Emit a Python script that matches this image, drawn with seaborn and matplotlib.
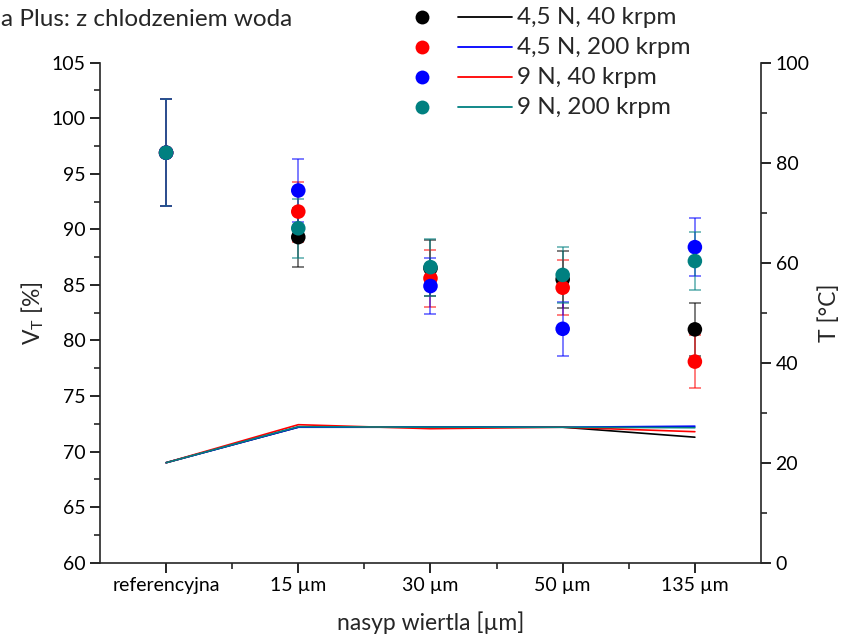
import matplotlib
matplotlib.use("Agg")
import matplotlib.pyplot as plt
from matplotlib.lines import Line2D
from matplotlib.ticker import MultipleLocator, FixedLocator
import numpy as np
import pandas as pd
import seaborn as sns

# --- data -------------------------------------------------------------
categories = ["referencyjna", "15 µm", "30 µm", "50 µm", "135 µm"]
series_names = ["4,5 N, 40 krpm", "4,5 N, 200 krpm", "9 N, 40 krpm", "9 N, 200 krpm"]

# V_T [%] with error bars
vt_45_40 = [96.9, 89.3, 86.5, 85.5, 81.0]
vt_45_200 = [96.9, 91.6, 85.6, 84.75, 78.1]
vt_9_40 = [96.9, 93.5, 84.9, 81.05, 88.4]
vt_9_200 = [96.9, 90.1, 86.6, 85.9, 87.15]
err_45_40 = [4.8, 2.65, 2.5, 2.55, 2.4]
err_45_200 = [4.8, 2.7, 2.55, 2.5, 2.35]
err_9_40 = [4.8, 2.8, 2.52, 2.45, 2.63]
err_9_200 = [4.8, 2.65, 2.56, 2.55, 2.6]

# temperature T [°C]
t_45_40 = [20.0, 27.1, 27.1, 27.1, 25.1]
t_45_200 = [20.0, 27.1, 27.1, 27.1, 27.3]
t_9_40 = [20.0, 27.6, 26.8, 27.1, 26.2]
t_9_200 = [20.0, 27.2, 27.1, 27.1, 27.0]

point_colors = ["#000000", "#FF0000", "#0000FF", "#008080"]
line_colors = ["#000000", "#0000FF", "#FF0000", "#008080"]

vt_values = [vt_45_40, vt_45_200, vt_9_40, vt_9_200]
vt_errors = [err_45_40, err_45_200, err_9_40, err_9_200]
t_values = [t_45_40, t_45_200, t_9_40, t_9_200]

# --- style ------------------------------------------------------------
sns.set_style("ticks")
FONT = ["Lato", "DejaVu Sans"]
plt.rcParams["font.family"] = FONT
plt.rcParams["mathtext.fontset"] = "custom"
plt.rcParams["mathtext.rm"] = "Lato"
plt.rcParams["mathtext.it"] = "Lato:italic"
plt.rcParams["axes.linewidth"] = 1.2
plt.rcParams["xtick.major.width"] = 1.2
plt.rcParams["ytick.major.width"] = 1.2
plt.rcParams["xtick.minor.width"] = 1.2
plt.rcParams["ytick.minor.width"] = 1.2

x_pos = np.arange(len(categories))

vt_df = pd.DataFrame({
    "x": np.tile(x_pos, len(series_names)),
    "vt": np.concatenate(vt_values),
    "err": np.concatenate(vt_errors),
    "series": np.repeat(series_names, len(categories)),
})
t_df = pd.DataFrame({
    "x": np.tile(x_pos, len(series_names)),
    "T": np.concatenate(t_values),
    "series": np.repeat(series_names, len(categories)),
})

fig = plt.figure(figsize=(8.43, 6.40), dpi=100)
ax = fig.add_axes([0.1186, 0.1208, 0.7841, 0.7812])
ax2 = ax.twinx()

# temperature lines on the right axis
sns.lineplot(data=t_df, x="x", y="T", hue="series", hue_order=series_names,
             palette=line_colors, linewidth=1.2, ax=ax2, legend=False,
             sort=False, estimator=None)

# error bars, then points on the left axis
for name, col in zip(series_names, point_colors):
    sub = vt_df[vt_df["series"] == name]
    ax.errorbar(sub["x"], sub["vt"], yerr=sub["err"], fmt="none",
                ecolor=col, elinewidth=1.2, capsize=4.5, capthick=1.2,
                alpha=0.6, zorder=2)
sns.scatterplot(data=vt_df, x="x", y="vt", hue="series", hue_order=series_names,
                palette=point_colors, s=110, edgecolor="none", ax=ax,
                legend=False, zorder=3)

# put the left axes in front of the twin so the points sit over the lines
ax.set_zorder(ax2.get_zorder() + 1)
ax.patch.set_visible(False)

# --- axes -------------------------------------------------------------
ax.set_xlim(-0.5, 4.5)
ax.set_ylim(60, 105)
ax2.set_ylim(0, 100)

ax.xaxis.set_major_locator(FixedLocator(x_pos))
ax.xaxis.set_minor_locator(FixedLocator(x_pos[:-1] + 0.5))
ax.set_xticklabels(categories)
ax.yaxis.set_major_locator(MultipleLocator(5))
ax.yaxis.set_minor_locator(MultipleLocator(2.5))
ax2.yaxis.set_major_locator(MultipleLocator(20))
ax2.yaxis.set_minor_locator(MultipleLocator(10))

for a in (ax, ax2):
    a.tick_params(which="major", length=7, direction="out", labelsize=14,
                  colors="black")
    a.tick_params(which="minor", length=4, direction="out")
    a.spines["top"].set_visible(False)
ax.spines["right"].set_visible(False)
ax2.spines["left"].set_visible(False)
ax2.spines["bottom"].set_visible(False)

ax.set_xlabel("nasyp wiertla [µm]", fontsize=16.5, labelpad=12)
ax.set_ylabel(r"V$_\mathrm{T}$ [%]", fontsize=16.5, labelpad=4)
ax2.set_ylabel("T [°C]", fontsize=16.5, labelpad=6)

# --- title and legend -------------------------------------------------
fig.text(0.001, 1 - 20 / 640, "a Plus: z chlodzeniem woda", fontsize=17.5,
         ha="left", va="center")

W, H = 843, 640
for i, name in enumerate(series_names):
    yy = 1 - (17 + 30 * i) / H
    fig.add_artist(Line2D([422 / W], [yy], marker="o", markersize=10,
                          color=point_colors[i], markeredgewidth=0,
                          linestyle="none"))
    fig.add_artist(Line2D([458 / W, 512 / W], [yy, yy], color=line_colors[i],
                          linewidth=1.3))
    fig.text(517 / W, yy, name, fontsize=17.5, ha="left", va="center")

fig.savefig("out.png", dpi=100)
